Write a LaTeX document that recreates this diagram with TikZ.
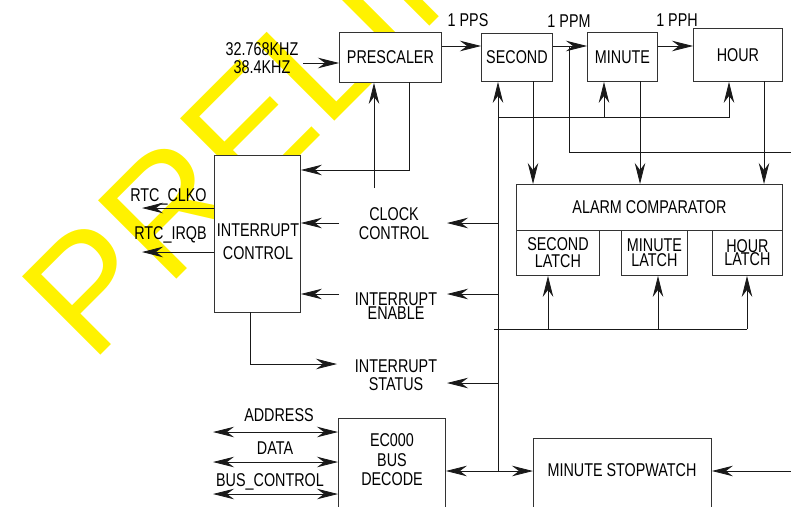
\documentclass[tikz,border=0pt]{standalone}
\usepackage{fontspec}
\setmainfont{Liberation Sans}[FakeStretch=0.776]
\newfontfamily\wmfont{Liberation Sans}
\usetikzlibrary{arrows.meta}
\begin{document}
\begin{tikzpicture}[x=1pt,y=-1pt,
  >={Stealth[length=21pt,width=10.5pt,inset=7pt]},
  wire/.style={draw=black!90, line width=0.8pt},
  box/.style={draw=black!80, fill=white, line width=0.9pt, inner sep=0pt, anchor=north west,
    align=center, font=\fontsize{18.5}{19}\selectfont, text depth=0pt},
  txt/.style={inner sep=0pt, align=center, font=\fontsize{18.5}{19}\selectfont, text depth=0pt},
  wm/.style={inner sep=0pt, text=yellow, font=\wmfont\fontsize{161}{161}\selectfont}]
\useasboundingbox (0,0) rectangle (791,506);
\clip (0,0) rectangle (791,506);
% watermark
\node[wm, rotate=45, anchor=base west] (wmark) at (91,365) {PRELIMINARY};
% boxes
\node[box, minimum width=102pt, minimum height=50pt] (pre) at (339,32) {PRESCALER};
\node[box, minimum width=71pt, minimum height=48pt] (sec) at (481,33) {SECOND};
\node[box, minimum width=70pt, minimum height=49pt] (min) at (587,32) {MINUTE};
\node[box, minimum width=89pt, minimum height=53pt] (hour) at (693,28) {HOUR};
\node[box, minimum width=266pt, minimum height=46pt] (alarm) at (516,184) {ALARM COMPARATOR};
\node[box, minimum width=83pt, minimum height=45pt] (sl) at (516,230) {SECOND\\[-2pt]LATCH};
\node[box, minimum width=66pt, minimum height=45pt] (ml) at (621,230) {MINUTE\\[-4pt]LATCH};
\node[box, minimum width=70pt, minimum height=45pt] (hl) at (712,230) {HOUR\\[-6pt]LATCH};
\node[box, minimum width=86pt, minimum height=157pt] (ic) at (214,155) {};
\node[txt] (ict) at (258,241.5) {INTERRUPT\\[4pt]CONTROL};
\node[box, minimum width=107pt, minimum height=110pt] (ec) at (338,418) {};
\node[txt] (ect) at (392,460) {EC000\\[1pt]BUS\\[0pt]DECODE};
\node[box, minimum width=178pt, minimum height=90pt] (sw) at (533,438) {};
\node[txt] (swt) at (622,470) {MINUTE STOPWATCH};
% labels
\node[txt] (freq) at (262,58) {32.768KHZ\\[-1pt]38.4KHZ};
\node[txt] (pps) at (468,20) {1 PPS};
\node[txt] (ppm) at (569,21) {1 PPM};
\node[txt] (pph) at (677,20) {1 PPH};
\node[txt] (cc) at (394,224) {CLOCK\\CONTROL};
\node[txt] (ie) at (396,306) {INTERRUPT\\[-5pt]ENABLE};
\node[txt] (is) at (396,375.5) {INTERRUPT\\[-1pt]STATUS};
\node[txt] (clko) at (168.5,195.5) {RTC\_CLKO};
\node[txt] (irqb) at (170.5,233.5) {RTC\_IRQB};
\node[txt] (addr) at (279,415) {ADDRESS};
\node[txt] (data) at (275,448) {DATA};
\node[txt] (busc) at (270,480) {BUS\_CONTROL};
% coordinates
\coordinate (yPPS) at (0,46);
\coordinate (clkin) at (303,63);
\coordinate (ppmX) at (569,46);
\coordinate (ppmC) at (569,152);
\coordinate (rEdge1) at (791,152);
\coordinate (busBot) at (498,471);
\coordinate (fbL) at (498,117);
\coordinate (fbM) at (604,117);
\coordinate (fbR) at (729,117);
\coordinate (dS) at (533,81);
\coordinate (dM) at (640,81);
\coordinate (dH) at (764,81);
\coordinate (lbL) at (494,329);
\coordinate (lbS) at (548,329);
\coordinate (lbM) at (658,329);
\coordinate (lbH) at (747,329);
\coordinate (vCC) at (498,223);
\coordinate (tCC) at (447,223);
\coordinate (vIE) at (498,294);
\coordinate (tIE) at (447,294);
\coordinate (vIS) at (498,383);
\coordinate (tIS) at (447,383);
\coordinate (cIC) at (339,223);
\coordinate (eIC) at (339,294);
\coordinate (pfb) at (409,82);
\coordinate (pfbC) at (409,170);
\coordinate (ccUp) at (374,188);
\coordinate (icb) at (250,312);
\coordinate (isIn) at (337,364);
\coordinate (clkoT) at (142,208);
\coordinate (irqbT) at (142,252);
\coordinate (aL) at (213,432);
\coordinate (dL) at (213,462);
\coordinate (bL) at (213,494);
\coordinate (yBus) at (0,471);
\coordinate (swIn) at (791,471);
% connectors
\draw[wire,->] (clkin) -- (clkin -| pre.west);
\draw[wire,->] (pre.east |- yPPS) -- (sec.west |- yPPS);
\draw[wire,->] (sec.east |- yPPS) -- (min.west |- yPPS);
\draw[wire,->] (min.east |- yPPS) -- (hour.west |- yPPS);
\draw[wire] (ppmX) -- (ppmC) -- (rEdge1);
\draw[wire,->] (busBot) -- (busBot |- sec.south);
\draw[wire,->] (fbL) -- (fbR) -- (fbR |- hour.south);
\draw[wire,->] (fbM) -- (fbM |- min.south);
\draw[wire,->] (dS) -- (dS |- alarm.north);
\draw[wire,->] (dM) -- (dM |- alarm.north);
\draw[wire,->] (dH) -- (dH |- alarm.north);
\draw[wire] (lbL) -- (lbH);
\draw[wire,->] (lbS) -- (lbS |- sl.south);
\draw[wire,->] (lbM) -- (lbM |- ml.south);
\draw[wire,->] (lbH) -- (lbH |- hl.south);
\draw[wire,->] (vCC) -- (tCC);
\draw[wire,->] (vIE) -- (tIE);
\draw[wire,->] (vIS) -- (tIS);
\draw[wire,->] (cIC) -- (cIC -| ic.east);
\draw[wire,->] (eIC) -- (eIC -| ic.east);
\draw[wire,->] (pfb) -- (pfbC) -- (pfbC -| ic.east);
\draw[wire,->] (ccUp) -- (ccUp |- pre.south);
\draw[wire,->] (icb) |- (isIn);
\draw[wire,->] (clkoT -| ic.west) -- (clkoT);
\draw[wire,->] (irqbT -| ic.west) -- (irqbT);
\draw[wire,<->] (aL) -- (aL -| ec.west);
\draw[wire,<->] (dL) -- (dL -| ec.west);
\draw[wire,<->] (bL) -- (bL -| ec.west);
\draw[wire,<->] (ec.east |- yBus) -- (sw.west |- yBus);
\draw[wire,->] (swIn) -- (sw.east |- yBus);
\end{tikzpicture}
\end{document}
